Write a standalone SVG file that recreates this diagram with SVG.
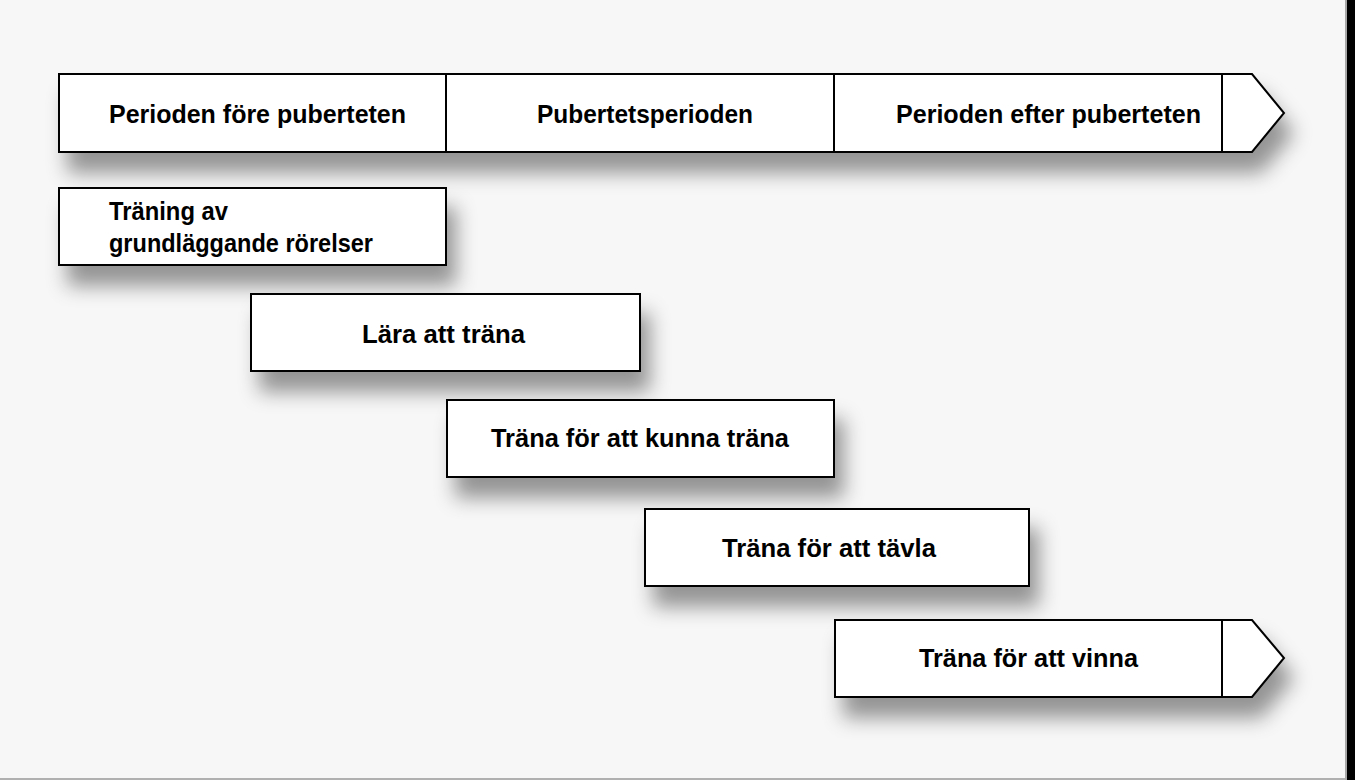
<svg xmlns="http://www.w3.org/2000/svg" width="1355" height="780" viewBox="0 0 1355 780">
<style>
.box{fill:#fff;stroke:#000;stroke-width:2;stroke-linejoin:miter}
.div{stroke:#000;stroke-width:2;fill:none}
.t{font-family:"Liberation Sans",Arial,sans-serif;font-weight:bold;font-size:25px;fill:#000}
</style>
<defs>
<filter id="sh" x="-10%" y="-40%" width="130%" height="220%">
<feDropShadow dx="9" dy="20" stdDeviation="10" flood-color="#000" flood-opacity="0.4"/>
</filter>
</defs>
<rect x="0" y="0" width="1355" height="780" fill="#f7f7f7"/>
<rect x="0" y="778" width="1346" height="2" fill="#b0b0b0"/>
<rect x="1345" y="0" width="2" height="780" fill="#a8a8a8"/>
<rect x="1347" y="0" width="8" height="780" fill="#000"/>

<g id="timeline">
<path class="box" filter="url(#sh)" d="M59,74 H1252 L1284,113 L1252,152 H59 Z"/>
<line class="div" x1="446" y1="74" x2="446" y2="152"/>
<line class="div" x1="834" y1="74" x2="834" y2="152"/>
<line class="div" x1="1222" y1="74" x2="1222" y2="152"/>
</g>
<g id="period-pre">
<text class="t" x="109" y="123" textLength="297" lengthAdjust="spacingAndGlyphs">Perioden före puberteten</text>
</g>
<g id="period-puberty">
<text class="t" x="537" y="123" textLength="216" lengthAdjust="spacingAndGlyphs">Pubertetsperioden</text>
</g>
<g id="period-post">
<text class="t" x="896" y="123" textLength="305" lengthAdjust="spacingAndGlyphs">Perioden efter puberteten</text>
</g>

<g id="stage-1">
<rect class="box" filter="url(#sh)" x="59" y="188" width="387" height="77"/>
<text class="t" x="109" y="220" textLength="119" lengthAdjust="spacingAndGlyphs">Träning av</text>
<text class="t" x="109" y="252" textLength="264" lengthAdjust="spacingAndGlyphs">grundläggande rörelser</text>
</g>
<g id="stage-2">
<rect class="box" filter="url(#sh)" x="251" y="294" width="389" height="77"/>
<text class="t" x="362" y="343" textLength="163" lengthAdjust="spacingAndGlyphs">Lära att träna</text>
</g>
<g id="stage-3">
<rect class="box" filter="url(#sh)" x="447" y="400" width="387" height="77"/>
<text class="t" x="491" y="447" textLength="298" lengthAdjust="spacingAndGlyphs">Träna för att kunna träna</text>
</g>
<g id="stage-4">
<rect class="box" filter="url(#sh)" x="645" y="509" width="384" height="77"/>
<text class="t" x="722" y="557" textLength="214" lengthAdjust="spacingAndGlyphs">Träna för att tävla</text>
</g>
<g id="stage-5">
<path class="box" filter="url(#sh)" d="M835,620 H1252 L1284,658 L1252,697 H835 Z"/>
<line class="div" x1="1222" y1="620" x2="1222" y2="697"/>
<text class="t" x="919" y="667" textLength="219" lengthAdjust="spacingAndGlyphs">Träna för att vinna</text>
</g>
<g id="connectors"></g>
</svg>
